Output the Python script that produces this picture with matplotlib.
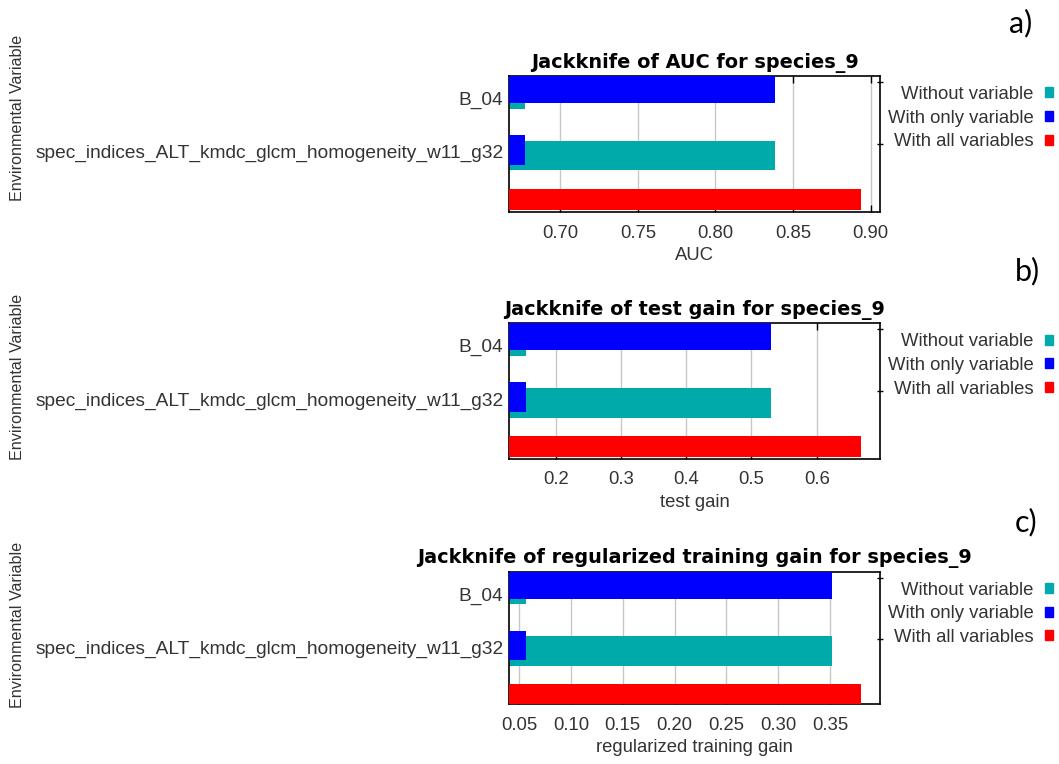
import matplotlib
matplotlib.use('Agg')
import matplotlib.pyplot as plt
from matplotlib.patches import Patch

plt.rcParams['font.family'] = ['Liberation Sans', 'DejaVu Sans']

# données
variables = ['B_04', 'spec_indices_ALT_kmdc_glcm_homogeneity_w11_g32']
legend_labels = ['Without variable', 'With only variable', 'With all variables']
colors = ['#00aaaa', '#0000ff', '#ff0000']

titles = ['Jackknife of AUC for species_9',
          'Jackknife of test gain for species_9',
          'Jackknife of regularized training gain for species_9']
xlabels = ['AUC', 'test gain', 'regularized training gain']
panel_letters = ['a)', 'b)', 'c)']

auc_without = [0.6775, 0.8386]
auc_only = [0.8386, 0.6775]
auc_all = 0.8936

test_without = [0.154, 0.530]
test_only = [0.530, 0.154]
test_all = 0.668

train_without = [0.0565, 0.3522]
train_only = [0.3522, 0.0565]
train_all = 0.380

auc_ticks = [0.70, 0.75, 0.80, 0.85, 0.90]
test_ticks = [0.2, 0.3, 0.4, 0.5, 0.6]
train_ticks = [0.05, 0.10, 0.15, 0.20, 0.25, 0.30, 0.35]

panels = [
    (auc_without, auc_only, auc_all, auc_ticks, '%.2f', (0.667, 0.906)),
    (test_without, test_only, test_all, test_ticks, '%.1f', (0.1284, 0.697)),
    (train_without, train_only, train_all, train_ticks, '%.2f', (0.0404, 0.398)),
]

W, H = 1059, 764
fig = plt.figure(figsize=(W / 100, H / 100), dpi=100)

# boites des axes en pixels (haut, bas)
boxes = [(76, 212.3), (323.3, 459), (571.7, 704.3)]
env_centres = [118, 377, 625]
letter_pos = [(1021, 23), (1027, 271), (1026, 522)]
slot = 61.6
text_col = '#333333'

for k in range(3):
    without, only, allv, ticks, fmt, xlim = panels[k]
    top, bot = boxes[k]
    ax = fig.add_axes([509 / W, 1 - bot / H, 371 / W, (bot - top) / H])

    y = [0, 1]
    ax.barh([i + 0.29 for i in y], without, height=0.48, color=colors[0], zorder=2)
    ax.barh([i + 0.2 for i in y], only, height=0.48, color=colors[1], zorder=3)
    ax.barh([2.0], [allv], height=0.34, color=colors[2], zorder=3)

    ax.set_xlim(*xlim)
    ax.set_ylim((bot - top) / slot, 0)

    ax.set_xticks(ticks)
    ax.set_xticklabels([fmt % t for t in ticks])
    ax.grid(axis='x', color='#c8c8c8', lw=1, zorder=0)
    ax.tick_params(axis='x', direction='in', top=True, length=5, width=1,
                   pad=9, labelsize=13.3, labelcolor=text_col)

    ax.set_yticks([0.36, 1.23])
    ax.set_yticklabels(variables)
    ax.tick_params(axis='y', length=0, pad=4, labelsize=13.8, labelcolor=text_col)
    ax.set_yticks([0.1, 1.1], minor=True)
    ax.tick_params(axis='y', which='minor', left=False, right=True,
                   direction='inout', length=5, width=1)

    for s in ax.spines.values():
        s.set_color('black')
        s.set_linewidth(1.2)

    ax.set_title(titles[k], fontsize=13.9, fontweight='bold', pad=6,
                 family=['DejaVu Sans'])
    ax.set_xlabel(xlabels[k], fontsize=13.3, color=text_col, labelpad=4)

    handles = [Patch(color=c) for c in colors]
    ax.legend(handles, legend_labels, loc='upper right',
              bbox_to_anchor=((1053 - 509) / 371, 1 - 10 / (bot - top)),
              markerfirst=False, frameon=False, fontsize=13.3,
              handlelength=0.45, handleheight=0.45, handletextpad=0.6,
              labelspacing=0.36, borderpad=0, borderaxespad=0,
              labelcolor=text_col)

    fig.text(18 / W, 1 - env_centres[k] / H, 'Environmental Variable',
             rotation=90, ha='center', va='center', fontsize=11.6, color=text_col)
    lx, ly = letter_pos[k]
    fig.text(lx / W, 1 - ly / H, panel_letters[k], ha='center', va='center',
             fontsize=22, family=['Lato', 'DejaVu Sans'])

fig.savefig('out.png', dpi=100)
